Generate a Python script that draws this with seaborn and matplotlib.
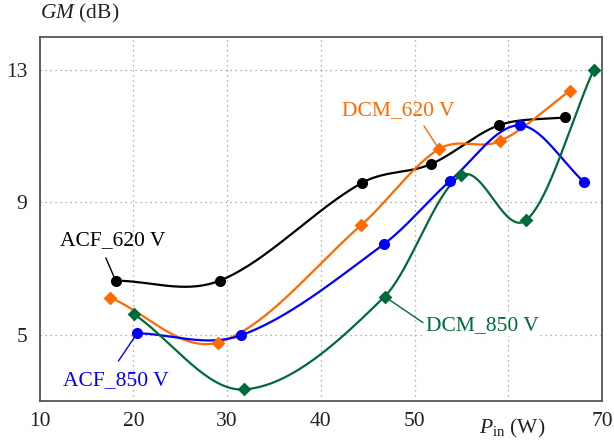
import numpy as np
import pandas as pd
import matplotlib
matplotlib.use("Agg")
import matplotlib.pyplot as plt
import seaborn as sns

# ---- data ----
acf620_x = [18.1, 29.2, 44.4, 51.7, 59.0, 66.0]
acf620_y = [6.63, 6.63, 9.59, 10.15, 11.33, 11.57]

dcm620_x = [17.5, 29.0, 44.3, 52.6, 59.1, 66.6]
dcm620_y = [6.12, 4.76, 8.31, 10.61, 10.85, 12.38]

acf850_x = [20.4, 31.5, 46.7, 53.8, 61.2, 68.1]
acf850_y = [5.04, 4.98, 7.73, 9.65, 11.33, 9.61]

dcm850_x = [20.1, 31.8, 46.8, 55.0, 61.9, 69.1]
dcm850_y = [5.61, 3.34, 6.15, 9.82, 8.46, 13.0]

xticks = [10, 20, 30, 40, 50, 70]
yticks = [5, 9, 13]

sns.set_style("white")
plt.rcParams['font.family'] = ['Liberation Serif', 'DejaVu Serif']
plt.rcParams['mathtext.fontset'] = 'custom'
plt.rcParams['mathtext.rm'] = 'Liberation Serif'
plt.rcParams['mathtext.it'] = 'Liberation Serif:italic'


def smooth_curve(x, y, n=60):
    """Catmull-Rom style Hermite interpolation through the data points."""
    x = np.asarray(x, float)
    y = np.asarray(y, float)
    m = len(x)
    t = np.zeros(m)
    t[0] = (y[1] - y[0]) / (x[1] - x[0])
    t[-1] = (y[-1] - y[-2]) / (x[-1] - x[-2])
    for i in range(1, m - 1):
        t[i] = (y[i + 1] - y[i - 1]) / (x[i + 1] - x[i - 1])
    xs_all, ys_all = [], []
    for i in range(m - 1):
        h = x[i + 1] - x[i]
        s = np.linspace(0, 1, n)
        h00 = 2 * s ** 3 - 3 * s ** 2 + 1
        h10 = s ** 3 - 2 * s ** 2 + s
        h01 = -2 * s ** 3 + 3 * s ** 2
        h11 = s ** 3 - s ** 2
        xs_all.append(x[i] + s * h)
        ys_all.append(h00 * y[i] + h10 * h * t[i] + h01 * y[i + 1] + h11 * h * t[i + 1])
    return np.concatenate(xs_all), np.concatenate(ys_all)


fig = plt.figure(figsize=(6.14, 4.41), dpi=100)
ax = fig.add_axes([0.0647, 0.0914, 0.9158, 0.8247])

series = [
    ("ACF_620 V", acf620_x, acf620_y, "#000000", "o", 8),
    ("DCM_620 V", dcm620_x, dcm620_y, "#FF6A00", "D", 7),
    ("ACF_850 V", acf850_x, acf850_y, "#0000FF", "o", 8),
    ("DCM_850 V", dcm850_x, dcm850_y, "#006B3A", "D", 7),
]

for name, xv, yv, col, mk, ms in series:
    xs, ys = smooth_curve(xv, yv)
    sns.lineplot(x=xs, y=ys, ax=ax, color=col, lw=1.6, sort=False,
                 estimator=None, legend=False, zorder=3)
    df = pd.DataFrame({"x": xv, "y": yv})
    sns.scatterplot(data=df, x="x", y="y", ax=ax, color=col, marker=mk,
                    s=ms ** 2, edgecolor=col, linewidth=0, legend=False, zorder=4)

ax.set_xlim(10, 70)
ax.set_ylim(3, 14)
ax.set_xticks([10, 20, 30, 40, 50, 60, 70])
ax.set_xticklabels(["10", "20", "30", "40", "50", "", "70"])
ax.set_yticks(yticks)
ax.set_yticklabels([str(v) for v in yticks])
ax.tick_params(axis='both', length=0, labelsize=15.5, colors='#222222')
ax.tick_params(axis='x', pad=8)
ax.tick_params(axis='y', pad=9)
ax.grid(True, linestyle=(0, (1, 3)), color='#999999', lw=0.9)
for s in ax.spines.values():
    s.set_color('#555555')
    s.set_linewidth(1.3)
ax.set_xlabel("")
ax.set_ylabel("")

fs = 15.5
# annotations
ax.text(17.8, 7.85, "ACF_620 V", color="#000000", fontsize=fs, ha='center', va='center', zorder=6)
ax.annotate("", xy=(18.1, 6.63), xytext=(17.05, 7.32),
            arrowprops=dict(arrowstyle='-', color='#000000', lw=1.0, shrinkA=0, shrinkB=0))

ax.text(48.3, 11.76, "DCM_620 V", color="#FF6A00", fontsize=fs, ha='center', va='center', zorder=6)
ax.annotate("", xy=(52.6, 10.61), xytext=(51.0, 11.31),
            arrowprops=dict(arrowstyle='-', color='#FF6A00', lw=1.0, shrinkA=0, shrinkB=0))

ax.text(18.1, 3.6, "ACF_850 V", color="#0000FF", fontsize=fs, ha='center', va='center', zorder=6)
ax.annotate("", xy=(20.4, 5.04), xytext=(18.4, 4.2),
            arrowprops=dict(arrowstyle='-', color='#0000FF', lw=1.0, shrinkA=0, shrinkB=0))

ax.text(57.2, 5.27, "DCM_850 V", color="#006B3A", fontsize=fs, ha='center', va='center', zorder=6,
        bbox=dict(facecolor='white', edgecolor='none', pad=1))
ax.annotate("", xy=(46.8, 6.15), xytext=(50.9, 5.36),
            arrowprops=dict(arrowstyle='-', color='#006B3A', lw=1.0, shrinkA=0, shrinkB=0))

# axis titles
ax.text(0.0, 1.065, r"$GM$ (dB)", transform=ax.transAxes, fontsize=fs,
        ha='left', va='center', color='#222222')
ax.text(60.4, 2.15, r"$P_{\mathrm{in}}$ (W)", fontsize=fs, ha='center', va='center',
        color='#222222', clip_on=False)

fig.savefig("out.png", dpi=100)
